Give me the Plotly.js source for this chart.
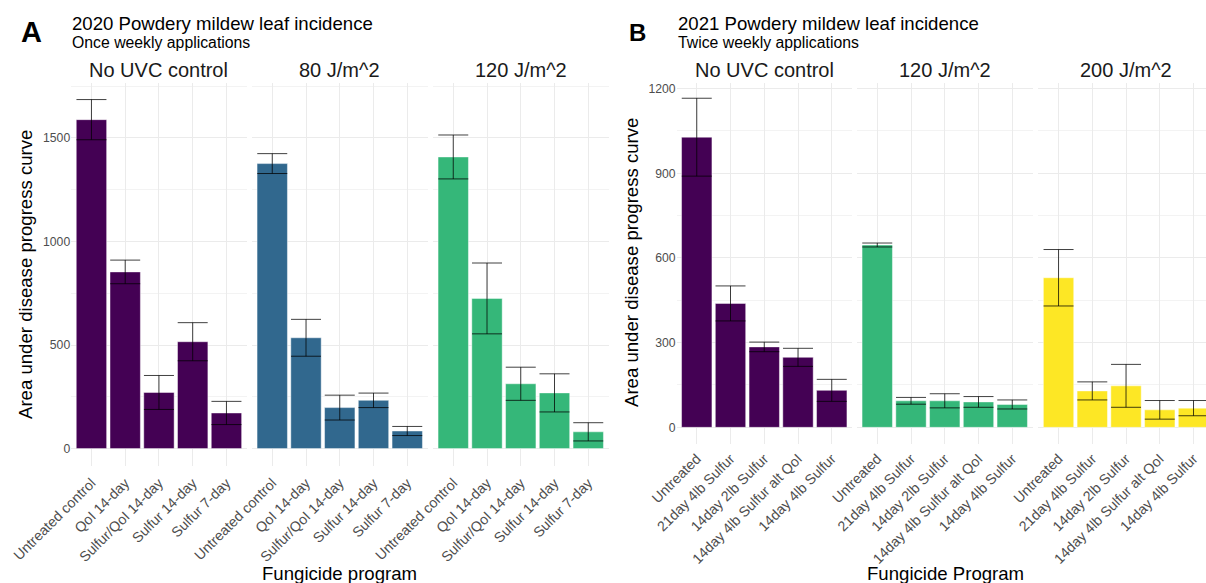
<!DOCTYPE html>
<html>
<head>
<meta charset="utf-8">
<script src="https://cdn.plot.ly/plotly-3.0.1.min.js"></script>
<style>html,body{margin:0;padding:0;background:#fff;}#chart{width:1206px;height:583px;}</style>
</head>
<body>
<div id="chart"></div>
<script>
// ---- Data ----
const categoriesA = ['Untreated control', 'QoI 14-day', 'Sulfur/QoI 14-day', 'Sulfur 14-day', 'Sulfur 7-day'];
const facetsA = ['No UVC control', '80 J/m^2', '120 J/m^2'];
const noUvcA = [1588, 853, 271, 516, 172];
const noUvcAErr = [97, 57, 82, 92, 56];
const uv80A = [1376, 535, 198, 233, 85];
const uv80AErr = [48, 89, 60, 35, 22];
const uv120A = [1408, 725, 313, 269, 81];
const uv120AErr = [106, 171, 80, 92, 44];

const categoriesB = ['Untreated', '21day 4lb Sulfur', '14day 2lb Sulfur', '14day 4lb Sulfur alt QoI', '14day 4lb Sulfur'];
const facetsB = ['No UVC control', '120 J/m^2', '200 J/m^2'];
const noUvcB = [1028, 439, 285, 248, 131];
const noUvcBErr = [138, 62, 17, 32, 39];
const uv120B = [646, 94, 94, 90, 81];
const uv120BErr = [7, 12, 25, 19, 16];
const uv200B = [530, 129, 147, 62, 68];
const uv200BErr = [100, 32, 76, 33, 27];

const yTicksA = [0, 500, 1000, 1500];
const yTicksB = [0, 300, 600, 900, 1200];

// ---- Styling ----
const W = 1206, H = 583;
const FONT = '"Liberation Sans", Arial, Helvetica, sans-serif';
const colPurple = '#440154', colBlue = '#31688E', colGreen = '#35B779', colYellow = '#FDE725';
const px = v => v / W;
const py = v => 1 - v / H;

const facetSpecs = [
  {cats: categoriesA, vals: noUvcA, err: noUvcAErr, color: colPurple, x0: 71.2, x1: 246.7, yTop: 83, yBot: 466, range: [-84, 1765], xr: [-0.6, 4.6], label: facetsA[0], main: true, ticks: yTicksA, minor: 250, so: 5},
  {cats: categoriesA, vals: uv80A, err: uv80AErr, color: colBlue, x0: 252.0, x1: 427.5, yTop: 83, yBot: 466, range: [-84, 1765], xr: [-0.6, 4.6], label: facetsA[1], main: false, ticks: yTicksA, minor: 250, so: 5},
  {cats: categoriesA, vals: uv120A, err: uv120AErr, color: colGreen, x0: 433.0, x1: 608.5, yTop: 83, yBot: 466, range: [-84, 1765], xr: [-0.6, 4.6], label: facetsA[2], main: false, ticks: yTicksA, minor: 250, so: 5},
  {cats: categoriesB, vals: noUvcB, err: noUvcBErr, color: colPurple, x0: 676.5, x1: 852.0, yTop: 83, yBot: 443.7, range: [-58, 1220], xr: [-0.6, 4.6], label: facetsB[0], main: true, ticks: yTicksB, minor: 150, so: 3},
  {cats: categoriesB, vals: uv120B, err: uv120BErr, color: colGreen, x0: 857.0, x1: 1032.5, yTop: 83, yBot: 443.7, range: [-58, 1220], xr: [-0.6, 4.6], label: facetsB[1], main: false, ticks: yTicksB, minor: 150, so: 3},
  {cats: categoriesB, vals: uv200B, err: uv200BErr, color: colYellow, x0: 1038.3, x1: 1206, yTop: 83, yBot: 443.7, range: [-58, 1220], xr: [-0.6, 4.37], label: facetsB[2], main: false, ticks: yTicksB, minor: 150, stripX: 1126, so: 3}
];

const data = [];
const layout = {
  width: W, height: H,
  margin: {l: 0, r: 0, t: 0, b: 0, pad: 0},
  paper_bgcolor: '#ffffff', plot_bgcolor: '#ffffff',
  showlegend: false,
  font: {family: FONT, color: '#4D4D4D'},
  annotations: []
};

facetSpecs.forEach((f, i) => {
  const n = i + 1;
  const xa = n === 1 ? 'x' : 'x' + n;
  const ya = n === 1 ? 'y' : 'y' + n;
  data.push({
    type: 'bar', x: f.cats, y: f.vals, xaxis: xa, yaxis: ya, width: 0.9,
    marker: {color: f.color, line: {color: 'rgba(255,255,255,0.45)', width: 1}},
    error_y: {type: 'data', array: f.err, visible: true, color: 'rgba(0,0,0,0.75)', thickness: 1, width: 15},
    hoverinfo: 'skip'
  });
  const xKey = n === 1 ? 'xaxis' : 'xaxis' + n;
  const yKey = n === 1 ? 'yaxis' : 'yaxis' + n;
  layout[xKey] = {
    domain: [px(f.x0), px(f.x1)], anchor: ya, type: 'category', range: f.xr,
    showgrid: true, gridcolor: '#EBEBEB', gridwidth: 1, zeroline: false, showline: false,
    ticks: '', tickangle: -45, ticklabelstandoff: f.so, tickfont: {family: FONT, size: 14.2, color: '#4D4D4D'},
    fixedrange: true
  };
  const yAx = {
    domain: [py(f.yBot), py(f.yTop)], anchor: xa, range: f.range,
    tickvals: f.ticks, showgrid: true, gridcolor: '#EBEBEB', gridwidth: 1,
    minor: {dtick: f.minor, tick0: 0, showgrid: true, gridcolor: '#F3F3F3', gridwidth: 1, ticks: ''},
    zeroline: false, showline: false, ticks: '',
    showticklabels: f.main, tickfont: {family: FONT, size: 12.2, color: '#4D4D4D'},
    fixedrange: true
  };
  if (!f.main) yAx.matches = (n <= 3) ? 'y' : 'y4';
  layout[yKey] = yAx;
  layout.annotations.push({
    xref: 'paper', yref: 'paper', x: px(f.stripX || (f.x0 + f.x1) / 2), y: py(70),
    xanchor: 'center', yanchor: 'middle', showarrow: false,
    text: f.label, font: {family: FONT, size: 20, color: '#1A1A1A'}
  });
});

const ann = (text, x, y, opts) => Object.assign({
  xref: 'paper', yref: 'paper', x: px(x), y: py(y), showarrow: false,
  text: text, xanchor: 'left', yanchor: 'middle'
}, opts);

layout.annotations.push(
  ann('<b>A</b>', 31, 32, {xanchor: 'center', font: {family: FONT, size: 29, color: '#000'}}),
  ann('2020 Powdery mildew leaf incidence', 70, 23, {font: {family: FONT, size: 18.6, color: '#000'}}),
  ann('Once weekly applications', 70, 43, {font: {family: FONT, size: 15.8, color: '#000'}}),
  ann('<b>B</b>', 637, 33, {xanchor: 'center', font: {family: FONT, size: 24, color: '#000'}}),
  ann('2021 Powdery mildew leaf incidence', 676, 23, {font: {family: FONT, size: 18.6, color: '#000'}}),
  ann('Twice weekly applications', 676, 43, {font: {family: FONT, size: 15.8, color: '#000'}}),
  ann('Area under disease progress curve', 25, 275, {xanchor: 'center', textangle: -90, font: {family: FONT, size: 18.6, color: '#000'}}),
  ann('Area under disease progress curve', 631, 263, {xanchor: 'center', textangle: -90, font: {family: FONT, size: 18.6, color: '#000'}}),
  ann('Fungicide program', 339, 573, {xanchor: 'center', font: {family: FONT, size: 18.6, color: '#000'}}),
  ann('Fungicide Program', 945, 573, {xanchor: 'center', font: {family: FONT, size: 18.6, color: '#000'}})
);

Plotly.newPlot('chart', data, layout, {staticPlot: true, displayModeBar: false});
</script>
</body>
</html>
